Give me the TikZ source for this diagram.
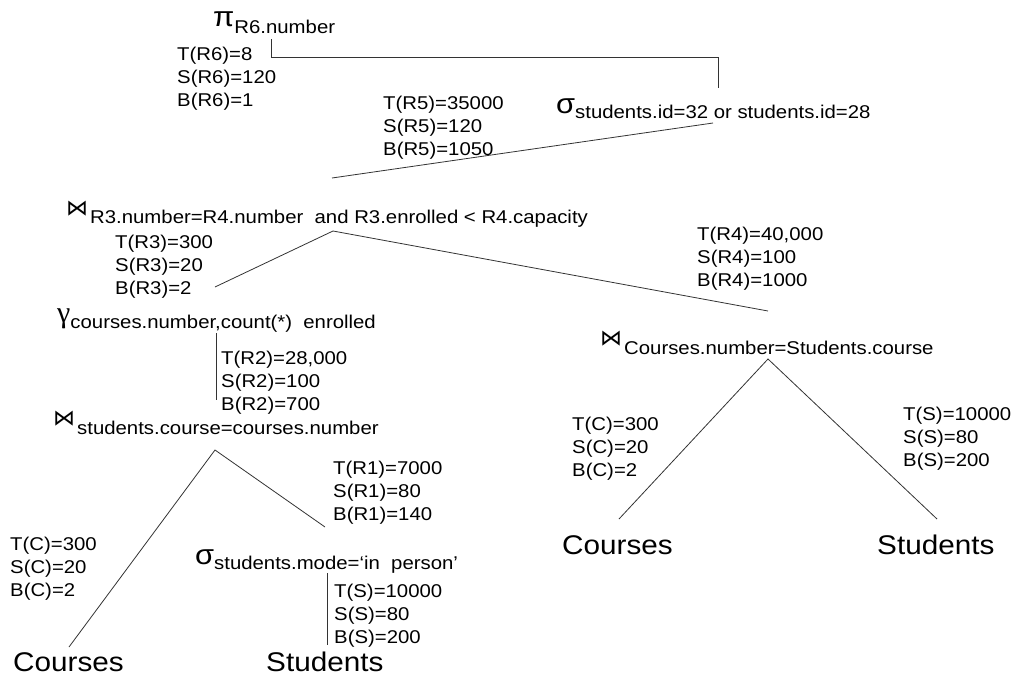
\documentclass[tikz,border=0pt]{standalone}
\usepackage{fontspec}
\setmainfont{Liberation Sans}[FakeStretch=1.1]
\newfontfamily\symfont{DejaVu Sans}
\newfontfamily\gamfont{Liberation Serif}
\usetikzlibrary{positioning}

\newcommand{\txt}{\fontsize{18.5}{23}\selectfont}
\newcommand{\relfont}{\fontsize{27}{27}\selectfont}
\newcommand{\gfont}{\fontsize{28}{28}\selectfont}
\newcommand{\jn}{{\symfont\fontsize{22}{22}\selectfont ⋈}}

\tikzset{
  op/.style={anchor=base west, inner sep=0pt, font=\txt},
  stats/.style={anchor=north west, yshift=13.5pt, inner sep=0pt, align=left, font=\txt},
  rel/.style={anchor=base west, inner sep=0pt, font=\relfont},
  edge/.style={draw=black!80, line width=0.8pt}
}

\begin{document}
\begin{tikzpicture}[x=1pt,y=-1pt]
  \useasboundingbox (0,0) rectangle (1013,686);

  \node[op] (proj) at (213,33) {\raisebox{7pt}{\gfont π}R6.number}; %Projection
  \node[stats] (r6) at (177,60) {T(R6)=8\\S(R6)=120\\B(R6)=1};

  \node[op] (sel1) at (556,118) {\raisebox{5pt}{\gfont σ}students.id=32 or students.id=28}; %Selection on id
  \node[stats] (r5) at (383,109) {T(R5)=35000\\S(R5)=120\\B(R5)=1050};

  \node[op] (join1) at (66,223) {\raisebox{8pt}{\jn}\hspace{2pt}R3.number=R4.number \ and R3.enrolled < R4.capacity}; %Top join
  \node[stats] (r3) at (115,248) {T(R3)=300\\S(R3)=20\\B(R3)=2};
  \node[stats] (r4) at (697,240) {T(R4)=40,000\\S(R4)=100\\B(R4)=1000};

  \node[op] (grp) at (57,328) {\raisebox{6pt}{\gamfont\fontsize{30}{30}\selectfont γ}courses.number,count(*) \ enrolled}; %Grouping
  \node[stats] (r2) at (221,364) {T(R2)=28,000\\S(R2)=100\\B(R2)=700};

  \node[op] (join2) at (53,434) {\raisebox{9pt}{\jn}\hspace{2pt}students.course=courses.number}; %Left join
  \node[stats] (r1) at (333,474) {T(R1)=7000\\S(R1)=80\\B(R1)=140};
  \node[stats] (cA) at (10,550) {T(C)=300\\S(C)=20\\B(C)=2};

  \node[op] (sel2) at (195,569) {\raisebox{5pt}{\gfont σ}students.mode=‘in \ person’}; %Selection on mode
  \node[stats] (sA) at (334,597) {T(S)=10000\\S(S)=80\\B(S)=200};

  \node[rel] (crsA) at (13,671) {Courses};
  \node[rel] (stdA) at (266,671) {Students};

  \node[op] (join3) at (600,354) {\raisebox{9pt}{\jn}\hspace{2pt}Courses.number=Students.course}; %Right join
  \node[stats] (cB) at (572,430) {T(C)=300\\S(C)=20\\B(C)=2};
  \node[stats] (sB) at (903,420) {T(S)=10000\\S(S)=80\\B(S)=200};

  \node[rel] (crsB) at (562,554) {Courses};
  \node[rel] (stdB) at (877,554) {Students};

  % connector end points
  \coordinate (projout) at (271,39);
  \coordinate (bend) at (718,57);
  \coordinate (sel1in) at (718,88);
  \coordinate (sel1out) at (713,123);
  \coordinate (join1in) at (332,178);
  \coordinate (join1out) at (333,231);
  \coordinate (grpin) at (215,287);
  \coordinate (join3in) at (768,311);
  \coordinate (grpout) at (216,333);
  \coordinate (join2in) at (216,400);
  \coordinate (join2out) at (215,450);
  \coordinate (crsAin) at (69,647);
  \coordinate (sel2in) at (325,527);
  \coordinate (sel2out) at (327,573);
  \coordinate (stdAin) at (327,645);
  \coordinate (join3out) at (768,359);
  \coordinate (crsBin) at (619,519);
  \coordinate (stdBin) at (937,519);

  \draw[edge] (projout) |- (bend) -- (sel1in); %pi to sigma
  \draw[edge] (sel1out) -- (join1in); %sigma to top join
  \draw[edge] (grpin) -- (join1out) -- (join3in); %top join children
  \draw[edge] (grpout) -- (join2in); %gamma to left join
  \draw[edge] (crsAin) -- (join2out) -- (sel2in); %left join children
  \draw[edge] (sel2out) -- (stdAin); %sigma to Students
  \draw[edge] (crsBin) -- (join3out) -- (stdBin); %right join children
\end{tikzpicture}
\end{document}
